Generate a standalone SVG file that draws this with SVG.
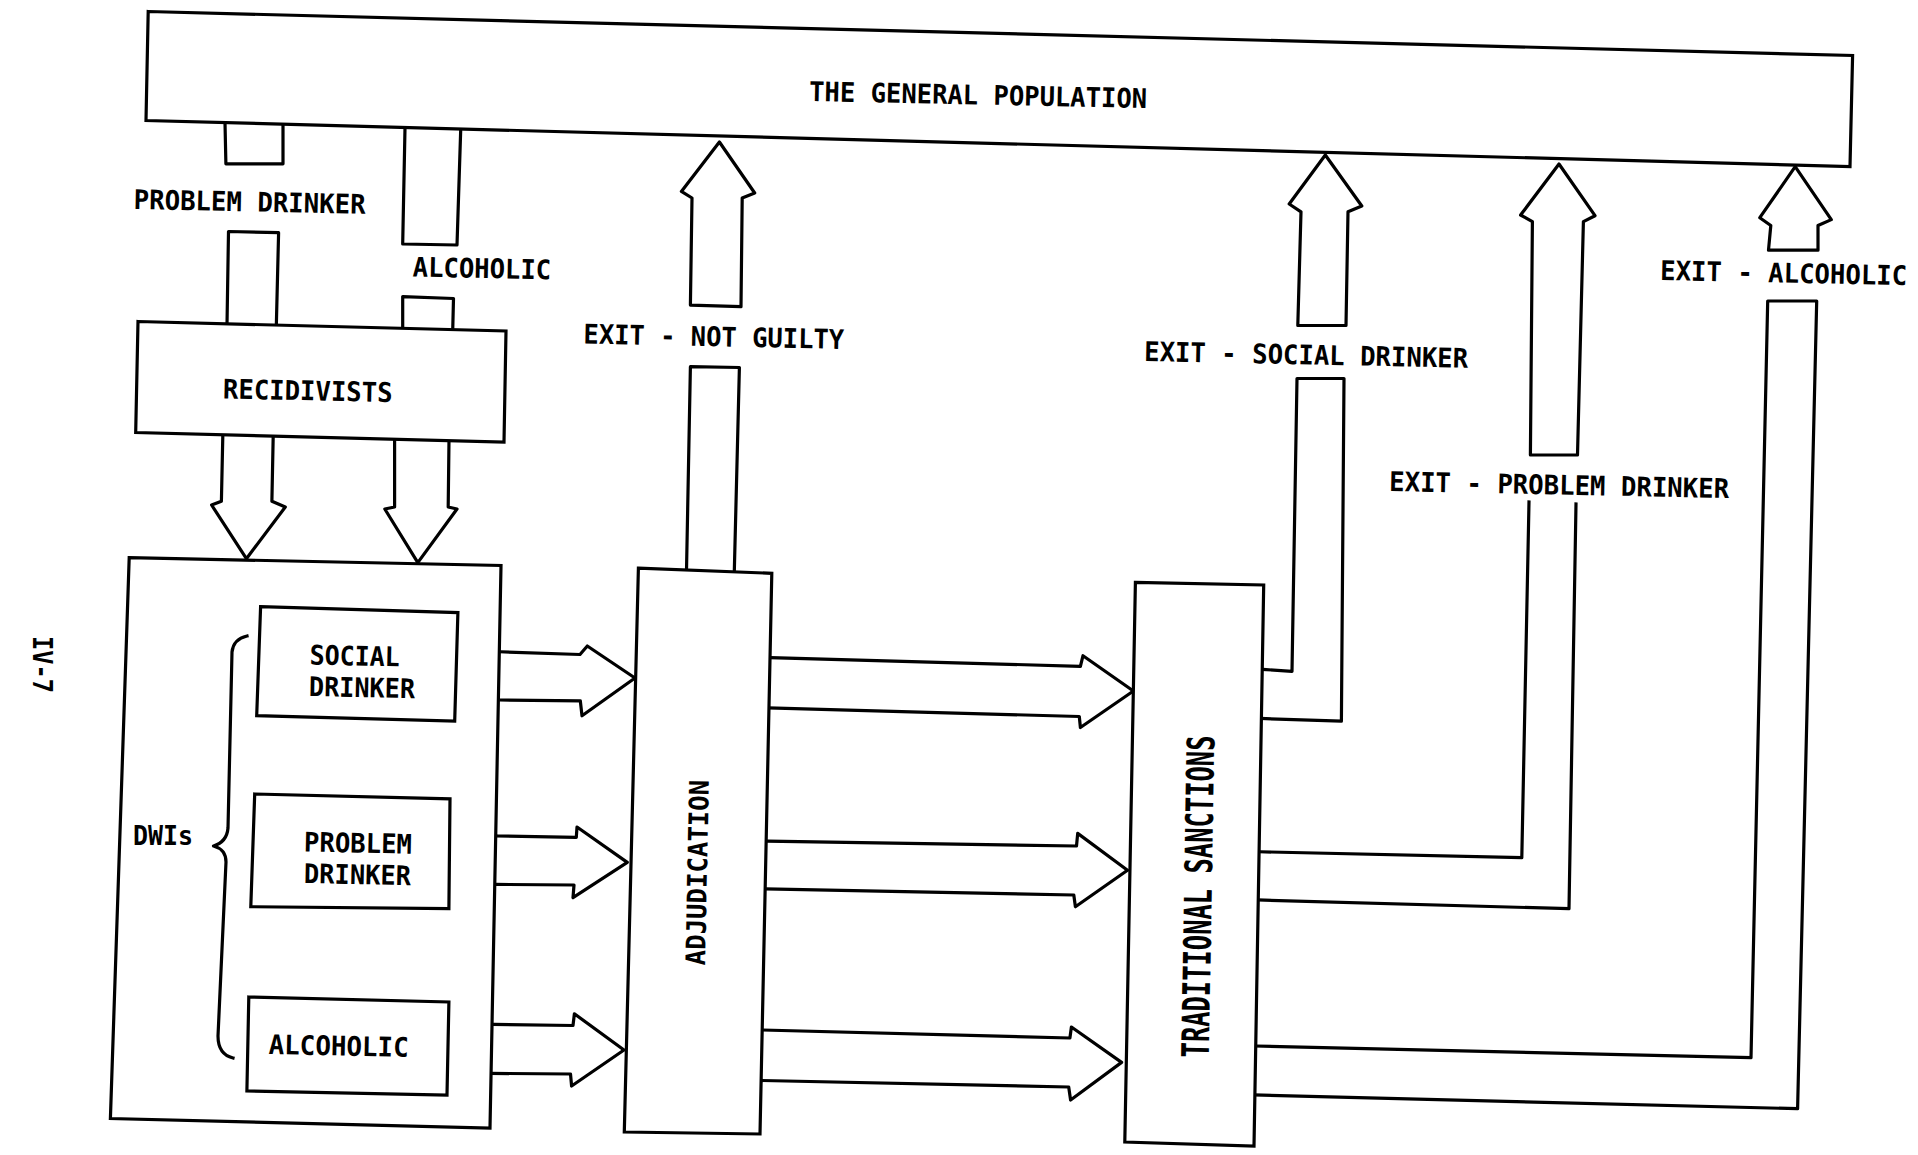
<svg xmlns="http://www.w3.org/2000/svg" width="1918" height="1155" viewBox="0 0 1918 1155">
<style>
.bx{fill:#fff;stroke:#000;stroke-width:3.2;stroke-linejoin:miter}
.ln{fill:none;stroke:#000;stroke-width:3.2;stroke-linejoin:round;stroke-linecap:square}
.t{font-family:"DejaVu Sans Mono","Liberation Mono",monospace;font-size:27px;font-weight:bold;fill:#000}
.tb{font-family:"DejaVu Sans Mono","Liberation Mono",monospace;font-size:38px;font-weight:bold;fill:#000}
</style>
<rect width="1918" height="1155" fill="#fff"/>

<g id="connectors">
  <!-- general population -> recidivists (problem drinker) -->
  <polyline class="ln" points="225,122.5 225.9,163.8 283,163.8 283,124.4"/>
  <text class="t" x="133.5" y="209" textLength="232" lengthAdjust="spacingAndGlyphs" transform="rotate(1.2 133.5 209)">PROBLEM DRINKER</text>
  <polyline class="ln" points="227,325 228.5,231.5 278.6,232.7 276.3,327"/>
  <!-- general population -> recidivists (alcoholic) -->
  <polyline class="ln" points="405,128 402.7,244 457,245 460.7,130"/>
  <text class="t" x="412.5" y="276.5" textLength="138.5" lengthAdjust="spacingAndGlyphs" transform="rotate(1.2 412.5 276.5)">ALCOHOLIC</text>
  <polyline class="ln" points="402.7,330 402.7,296.6 453.5,298.5 452.7,331"/>
  <!-- recidivists -> DWIs -->
  <polyline class="ln" points="222.8,436 221.4,501.3 211.6,505 246.4,558.7 285.3,507 271.9,501.3 273.2,436"/>
  <polyline class="ln" points="394.6,440 394.6,507 384.8,509 417.8,562.6 457,509 448.2,507 449,440"/>
  <!-- DWIs -> adjudication -->
  <polyline class="ln" points="501,651.8 580,654.5 587.3,646 635,678 582,715.7 580.3,700.8 501,700"/>
  <polyline class="ln" points="498,836 576.3,837.3 577,827 627.3,862.4 573,897.7 574,885 497,884.4"/>
  <polyline class="ln" points="494,1024.4 573,1025.5 574.4,1013.8 624,1050 571.6,1086 570.5,1074 492,1073.4"/>
  <!-- adjudication -> traditional sanctions -->
  <polyline class="ln" points="770.6,657.7 1080.4,666.3 1083,655.7 1133.4,691 1080.4,727.5 1079.3,716.5 769.4,707.9"/>
  <polyline class="ln" points="767.9,841.2 1076.5,846 1077.7,833.4 1127.5,870.2 1075.4,906.7 1073.8,895 766.7,889"/>
  <polyline class="ln" points="762.8,1030 1069.9,1038 1071.4,1027 1121.6,1062.4 1070.6,1100 1068.7,1087 761.6,1080.5"/>
  <!-- exit - not guilty -->
  <polyline class="ln" points="686.5,570.7 690.4,366.7 739.4,367.5 734.3,571.8"/>
  <text class="t" x="583.3" y="343.5" textLength="260.7" lengthAdjust="spacingAndGlyphs" transform="rotate(1.2 583.3 343.5)">EXIT - NOT GUILTY</text>
  <polygon class="ln" points="690.4,305.1 692,198 681.4,191.4 719.4,142 754.7,193 742.2,198 741,306.7"/>
  <!-- exit - social drinker -->
  <polyline class="ln" points="1263,669.4 1292,671.4 1297,378.5 1344,378.5 1341.4,721.2 1261.8,718.5"/>
  <text class="t" x="1144" y="361" textLength="324" lengthAdjust="spacingAndGlyphs" transform="rotate(1.2 1144 361)">EXIT - SOCIAL DRINKER</text>
  <polygon class="ln" points="1297.8,325.5 1301,211.8 1289.2,204 1325.3,155 1361.8,206 1348,211.8 1346,325.5"/>
  <!-- exit - problem drinker -->
  <polyline class="ln" points="1260.6,851.8 1521.8,857.7 1529,502"/>
  <polyline class="ln" points="1576,504 1569,908.7 1259,900"/>
  <text class="t" x="1389" y="491" textLength="340" lengthAdjust="spacingAndGlyphs" transform="rotate(1.2 1389 491)">EXIT - PROBLEM DRINKER</text>
  <polygon class="ln" points="1530.4,455 1532.4,221.6 1520.6,215 1559,164 1595,215.7 1583.4,221.6 1577.5,455"/>
  <!-- exit - alcoholic -->
  <polyline class="ln" points="1256,1046 1751,1057.7 1767.7,301 1816.7,301 1797.6,1108.7 1255,1095"/>
  <text class="t" x="1660" y="280" textLength="247" lengthAdjust="spacingAndGlyphs" transform="rotate(1.2 1660 280)">EXIT - ALCOHOLIC</text>
  <polygon class="ln" points="1768.5,250.2 1770.8,225.5 1759.8,217.7 1795.2,166.7 1831.3,219.6 1818,225.5 1818,250.2"/>
</g>

<g id="general-population">
  <polygon class="bx" points="148.2,11.5 1852.6,55.5 1850,166.5 146,120.5"/>
  <text class="t" x="809" y="101" textLength="338" lengthAdjust="spacingAndGlyphs" transform="rotate(1.2 809 101)">THE GENERAL POPULATION</text>
</g>

<g id="recidivists">
  <polygon class="bx" points="138,321.5 506,331 504,442 135.7,432.5"/>
  <text class="t" x="222.8" y="398.5" textLength="169.6" lengthAdjust="spacingAndGlyphs" transform="rotate(1.2 222.8 398.5)">RECIDIVISTS</text>
</g>

<g id="dwis">
  <polygon class="bx" points="129.2,557.6 501,565.5 490,1128 110.4,1118.5"/>
  <text class="t" x="133" y="845" textLength="60" lengthAdjust="spacingAndGlyphs">DWIs</text>
  <path class="ln" d="M247,636 C238,638 233,643 232,652 L228,828 C227,840 220,844 213.5,846 C221,848 226,852 226,862 L218,1036 C218,1050 225,1056 233,1058"/>
</g>

<g id="dwi-social-drinker">
  <polygon class="bx" points="260.6,606.7 457.9,612.6 454.7,721 256.7,715.7"/>
  <text class="t" x="309.6" y="664.5" textLength="90" lengthAdjust="spacingAndGlyphs" transform="rotate(1.2 309.6 664.5)">SOCIAL</text>
  <text class="t" x="308.8" y="696" textLength="106" lengthAdjust="spacingAndGlyphs" transform="rotate(1.2 308.8 696)">DRINKER</text>
</g>

<g id="dwi-problem-drinker">
  <polygon class="bx" points="254.7,794 450,798.9 448.9,908.7 250.8,906.7"/>
  <text class="t" x="303.8" y="851.5" textLength="108" lengthAdjust="spacingAndGlyphs" transform="rotate(1.2 303.8 851.5)">PROBLEM</text>
  <text class="t" x="303.8" y="883" textLength="107" lengthAdjust="spacingAndGlyphs" transform="rotate(1.2 303.8 883)">DRINKER</text>
</g>

<g id="dwi-alcoholic">
  <polygon class="bx" points="248.8,997 448.9,1002 447,1095 246.9,1091"/>
  <text class="t" x="268.5" y="1054" textLength="140" lengthAdjust="spacingAndGlyphs" transform="rotate(1.2 268.5 1054)">ALCOHOLIC</text>
</g>

<g id="adjudication">
  <polygon class="bx" points="638.4,568.2 771.8,573.3 760,1134 624.3,1132"/>
  <text class="t" x="705" y="965.5" textLength="185.5" lengthAdjust="spacingAndGlyphs" transform="rotate(-88.8 705 965.5)">ADJUDICATION</text>
</g>

<g id="traditional-sanctions">
  <polygon class="bx" points="1135.4,582.4 1263.7,585 1254,1146 1124.8,1142"/>
  <text class="tb" x="1208.8" y="1057.7" textLength="322" lengthAdjust="spacingAndGlyphs" transform="rotate(-89 1208.8 1057.7)">TRADITIONAL SANCTIONS</text>
</g>

<g id="page-number">
  <text class="t" x="33" y="636" textLength="57" lengthAdjust="spacingAndGlyphs" transform="rotate(90 33 636)">IV-7</text>
</g>
</svg>
